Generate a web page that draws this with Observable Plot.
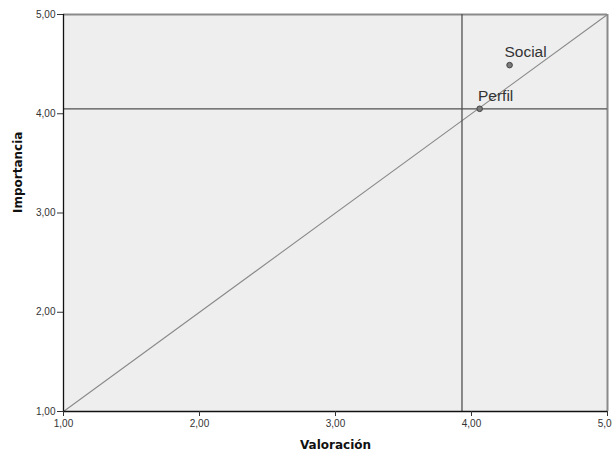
<!DOCTYPE html>
<html>
<head>
<meta charset="utf-8">
<script src="https://cdn.jsdelivr.net/npm/d3@7"></script>
<script src="https://cdn.jsdelivr.net/npm/@observablehq/plot@0.6"></script>
<style>
  body { margin: 0; background: #fff; }
  #chart svg { display: block; }
</style>
</head>
<body>
<div id="chart"></div>
<script>
const labels = ["Social", "Perfil"];
const valoracion = [4.28, 4.06];
const importancia = [4.49, 4.05];
const refValoracion = [3.93];
const refImportancia = [4.05];
const axisDomain = [1, 5];
const tickValues = [1, 2, 3, 4, 5];
const xTitle = "Valoración";
const yTitle = "Importancia";

const points = labels.map((l, i) => ({label: l, x: valoracion[i], y: importancia[i]}));
const fmt = d => d3.format(".2f")(d).replace(".", ",");

const chart = Plot.plot({
  width: 612,
  height: 452,
  marginLeft: 63,
  marginRight: 5,
  marginTop: 14,
  marginBottom: 41,
  style: {fontFamily: "Liberation Sans, Arial, sans-serif", background: "white", overflow: "visible"},
  x: {domain: axisDomain},
  y: {domain: axisDomain},
  marks: [
    Plot.frame({fill: "#eeeeee", stroke: null}),
    Plot.ruleY([axisDomain[1]], {stroke: "#8a8a8a", strokeWidth: 2}),
    Plot.ruleX([axisDomain[1]], {stroke: "#8a8a8a", strokeWidth: 2}),
    Plot.line(axisDomain, {x: d => d, y: d => d, stroke: "#8a8a8a", strokeWidth: 1.1}),
    Plot.ruleX(refValoracion, {stroke: "#505050", strokeWidth: 1.3}),
    Plot.ruleY(refImportancia, {stroke: "#505050", strokeWidth: 1.3}),
    Plot.ruleX([axisDomain[0]], {stroke: "#111", strokeWidth: 1.3}),
    Plot.ruleY([axisDomain[0]], {stroke: "#111", strokeWidth: 1.3}),
    Plot.dot(points, {x: "x", y: "y", r: 2.8, fill: "#7a7a7a", stroke: "#444", strokeWidth: 1}),
    Plot.text(points, {x: "x", y: "y", text: "label", textAnchor: "middle", lineAnchor: "bottom", dx: 16, dy: -8,
      fontSize: 15.5, fill: "#333", fontFamily: "Liberation Sans, Arial, sans-serif"}),
    Plot.axisX({ticks: tickValues, tickFormat: fmt, tickSize: 5, tickPadding: 3, fontSize: 10, color: "#333", label: null}),
    Plot.axisY({ticks: tickValues, tickFormat: fmt, tickSize: 6, tickPadding: 2, fontSize: 10, color: "#333", label: null}),
    Plot.text([xTitle], {frameAnchor: "bottom", dy: 37, fontSize: 12, fontWeight: "bold", fill: "#111",
      fontFamily: "DejaVu Sans, sans-serif"}),
    Plot.text([yTitle], {frameAnchor: "left", rotate: -90, dx: -45, dy: 0, fontSize: 12, fontWeight: "bold", fill: "#111",
      fontFamily: "DejaVu Sans, sans-serif"})
  ]
});
document.getElementById("chart").appendChild(chart);
</script>
</body>
</html>
